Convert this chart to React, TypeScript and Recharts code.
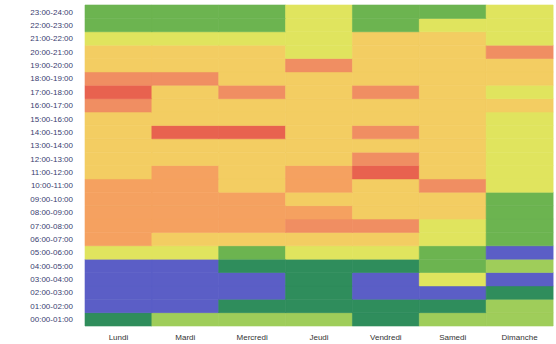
import React from 'react';
import { BarChart, Bar, Cell, XAxis, YAxis } from 'recharts';

// weekdays along the x axis
const days = ['Lundi', 'Mardi', 'Mercredi', 'Jeudi', 'Vendredi', 'Samedi', 'Dimanche'];

// hour slots, bottom (00:00) to top (23:00)
const hourLabels = [
  '00:00-01:00', '01:00-02:00', '02:00-03:00', '03:00-04:00', '04:00-05:00', '05:00-06:00',
  '06:00-07:00', '07:00-08:00', '08:00-09:00', '09:00-10:00', '10:00-11:00', '11:00-12:00',
  '12:00-13:00', '13:00-14:00', '14:00-15:00', '15:00-16:00', '16:00-17:00', '17:00-18:00',
  '18:00-19:00', '19:00-20:00', '20:00-21:00', '21:00-22:00', '22:00-23:00', '23:00-24:00',
];

// level per cell, listed top row first (23:00-24:00) down to 00:00-01:00
// B blue, DG dark green, G green, LG light green, YG yellow-green, Y yellow, O orange, S salmon, R red
const lundi =    ['G','G','YG','Y','Y','S','R','S','Y','Y','Y','Y','Y','O','O','O','O','O','YG','B','B','B','B','DG'];
const mardi =    ['G','G','YG','Y','Y','S','Y','Y','Y','R','Y','Y','O','O','O','O','O','Y','YG','B','B','B','B','LG'];
const mercredi = ['G','G','YG','Y','Y','Y','S','Y','Y','R','Y','Y','Y','Y','O','O','O','Y','G','DG','B','B','DG','LG'];
const jeudi =    ['YG','YG','YG','YG','S','Y','Y','Y','Y','Y','Y','Y','O','O','Y','O','S','Y','YG','DG','DG','DG','DG','LG'];
const vendredi = ['G','G','Y','Y','Y','Y','S','Y','Y','S','Y','S','R','Y','Y','Y','S','Y','YG','DG','B','B','DG','DG'];
const samedi =   ['G','YG','Y','Y','Y','Y','Y','Y','Y','Y','Y','Y','Y','S','Y','Y','YG','YG','G','G','YG','B','DG','LG'];
const dimanche = ['YG','YG','YG','S','Y','Y','YG','Y','YG','YG','YG','YG','YG','YG','G','G','G','G','B','LG','B','DG','LG','LG'];

const grid = [lundi, mardi, mercredi, jeudi, vendredi, samedi, dimanche];

const COLORS: Record<string, string> = {
  B: '#5b5ec6',
  DG: '#2f8d5c',
  G: '#6cb450',
  LG: '#9fcd5a',
  YG: '#e0e45e',
  Y: '#f3cd62',
  O: '#f5a160',
  S: '#f08e62',
  R: '#e8624f',
};

const App: React.FC = () => {
  // each day is one stacked column of 24 one-hour blocks
  const data = days.map(day => {
    const row: Record<string, string | number> = { day };
    hourLabels.forEach((_, h) => { row[`h${h}`] = 1; });
    return row;
  });

  return (
    <div style={{ position: 'absolute', left: 0, top: 0, background: '#fff' }}>
      <BarChart
        width={556}
        height={344}
        data={data}
        margin={{ top: 5, right: 3, left: 0, bottom: 4 }}
        barCategoryGap={0}
        barGap={0}
      >
        <XAxis
          dataKey="day"
          axisLine={false}
          tickLine={false}
          tickMargin={2}
          height={14}
          interval={0}
          tick={{ fontSize: 8, fill: '#333', fontFamily: 'Liberation Sans, Arial, sans-serif' }}
        />
        <YAxis
          type="number"
          domain={[0, 24]}
          ticks={hourLabels.map((_, i) => i + 0.5)}
          tickFormatter={(v: number) => hourLabels[Math.floor(v)]}
          interval={0}
          width={85}
          axisLine={false}
          tickLine={false}
          tickMargin={6}
          tick={{ fontSize: 8, fill: '#3a4070', fontFamily: 'Liberation Sans, Arial, sans-serif' }}
        />
        {hourLabels.map((_, h) => (
          <Bar key={h} dataKey={`h${h}`} stackId="a" isAnimationActive={false}>
            {days.map((d, i) => {
              const c = COLORS[grid[i][23 - h]];
              return <Cell key={d} fill={c} stroke={c} strokeWidth={0.6} />;
            })}
          </Bar>
        ))}
      </BarChart>
    </div>
  );
};

export default App;
